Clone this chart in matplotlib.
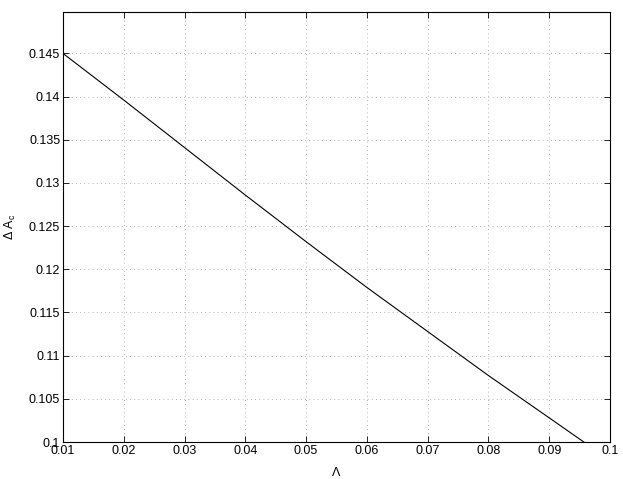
import numpy as np
import matplotlib
matplotlib.use('Agg')
import matplotlib.pyplot as plt
from matplotlib.ticker import FormatStrFormatter

plt.rcParams['font.family'] = ['Liberation Sans', 'DejaVu Sans']

# values
lam = [0.01, 0.02, 0.03, 0.04, 0.05, 0.06, 0.07, 0.08, 0.09, 0.0957]
dAc = [0.145, 0.1396, 0.1341, 0.1286, 0.1232, 0.1179, 0.1128, 0.1077, 0.1028, 0.1]

xticks = [0.01, 0.02, 0.03, 0.04, 0.05, 0.06, 0.07, 0.08, 0.09, 0.1]
yticks = [0.1, 0.105, 0.11, 0.115, 0.12, 0.125, 0.13, 0.135, 0.14, 0.145]

fig = plt.figure(figsize=(6.23, 4.79), dpi=100)
ax = fig.add_axes([0.1011, 0.0772, 0.8780, 0.8978])

ax.plot(lam, dAc, color='k', lw=0.8)

ax.set_xlim(0.01, 0.1)
ax.set_ylim(0.1, 0.1498)
ax.set_xticks(xticks)
ax.set_yticks(yticks)
ax.xaxis.set_major_formatter(FormatStrFormatter('%g'))
ax.yaxis.set_major_formatter(FormatStrFormatter('%g'))
ax.tick_params(direction='in', length=4, width=0.6, labelsize=9,
               top=True, right=True, pad=2)
ax.grid(True, color='#999999', linestyle=(0, (1, 4)), lw=0.6)
for s in ax.spines.values():
    s.set_linewidth(0.8)

ax.set_xlabel('Λ', fontsize=9, labelpad=7)
ax.set_ylabel('Δ A$_\\mathregular{c}$', fontsize=9, labelpad=8)

fig.savefig('out.png', dpi=100)
